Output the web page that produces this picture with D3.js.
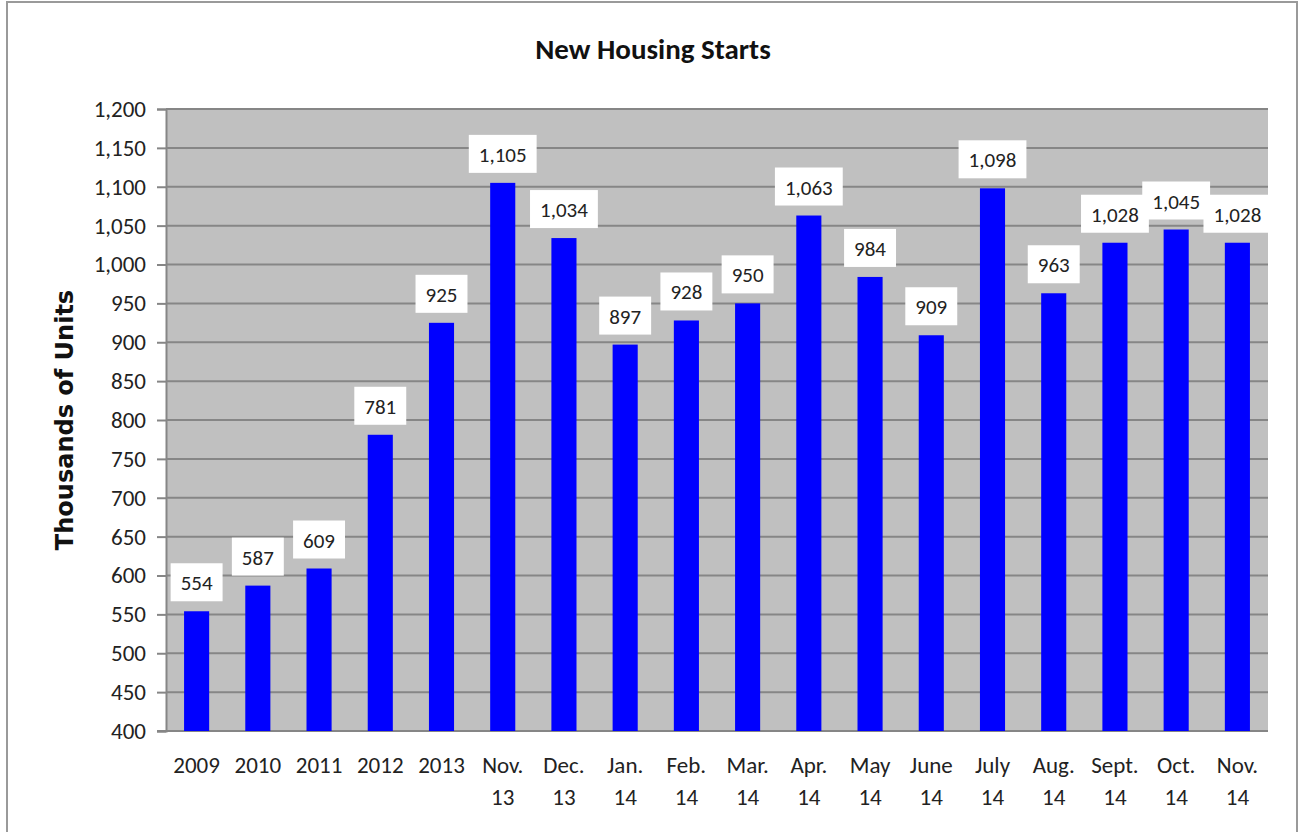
<!DOCTYPE html>
<html>
<head>
<meta charset="utf-8">
<script src="https://cdn.jsdelivr.net/npm/d3@7"></script>
<style>
  html, body { margin: 0; padding: 0; background: #fff; }
  svg { display: block; }
</style>
</head>
<body>
<div id="container"></div>
<script>
// ---------- DATA ----------
const categories = [
    ['2009'], ['2010'], ['2011'], ['2012'], ['2013'],
    ['Nov.', '13'], ['Dec.', '13'], ['Jan.', '14'], ['Feb.', '14'],
    ['Mar.', '14'], ['Apr.', '14'], ['May', '14'], ['June', '14'],
    ['July', '14'], ['Aug.', '14'], ['Sept.', '14'], ['Oct.', '14'], ['Nov.', '14']
];
const starts = [554, 587, 609, 781, 925, 1105, 1034, 897, 928, 950, 1063, 984, 909, 1098, 963, 1028, 1045, 1028];
const yTicks = [400, 450, 500, 550, 600, 650, 700, 750, 800, 850, 900, 950, 1000, 1050, 1100, 1150, 1200];

// ---------- DIMENSIONS ----------
const width = 1300;
const height = 832;
const marginTop = 109;
const marginRight = 32;
const marginBottom = 101;
const marginLeft = 166;
const font = "Calibri, Carlito, 'Open Sans', sans-serif";

const data = categories.map((c, i) => ({ key: c.join(' '), lines: c, value: starts[i] }));

const svg = d3.select('#container').append('svg')
    .attr('width', width)
    .attr('height', height);

// outer frame
svg.append('rect')
    .attr('x', 7).attr('y', 2)
    .attr('width', 1290).attr('height', 840)
    .attr('fill', '#fff')
    .attr('stroke', '#9a9a9a')
    .attr('stroke-width', 2);

// ---------- SCALES ----------
const x = d3.scaleBand()
    .domain(data.map(d => d.key))
    .range([marginLeft, width - marginRight])
    .paddingInner(0.59)
    .paddingOuter(0.295);

const y = d3.scaleLinear()
    .domain([400, 1200])
    .range([height - marginBottom, marginTop]);

// plot background
svg.append('rect')
    .attr('x', marginLeft)
    .attr('y', marginTop)
    .attr('width', width - marginRight - marginLeft)
    .attr('height', y(400) - y(1200))
    .attr('fill', '#c0c0c0');

// ---------- AXES ----------
const yAxis = svg.append('g')
    .attr('transform', `translate(${marginLeft},0)`)
    .call(d3.axisLeft(y)
        .tickValues(yTicks)
        .tickSize(9)
        .tickPadding(11)
        .tickFormat(d3.format(',')));

yAxis.select('.domain').attr('stroke', '#868686').attr('stroke-width', 2);
yAxis.selectAll('.tick line').attr('stroke', '#868686').attr('stroke-width', 2);
yAxis.selectAll('.tick text')
    .attr('fill', '#222')
    .style('font-family', font)
    .style('font-size', '23px');

// gridlines
svg.append('g')
    .selectAll('line')
    .data(yTicks.filter(t => t > 400))
    .join('line')
    .attr('x1', marginLeft)
    .attr('x2', width - marginRight)
    .attr('y1', d => y(d))
    .attr('y2', d => y(d))
    .attr('stroke', '#868686')
    .attr('stroke-width', 2);

// bottom axis line
svg.append('line')
    .attr('x1', marginLeft - 9)
    .attr('x2', width - marginRight)
    .attr('y1', y(400))
    .attr('y2', y(400))
    .attr('stroke', '#868686')
    .attr('stroke-width', 2);

// ---------- BARS ----------
svg.append('g')
    .selectAll('rect')
    .data(data)
    .join('rect')
    .attr('x', d => x(d.key))
    .attr('width', x.bandwidth())
    .attr('y', d => y(d.value))
    .attr('height', d => y(400) - y(d.value))
    .attr('fill', '#0000ff');

// ---------- DATA LABELS ----------
const labels = svg.append('g')
    .selectAll('g')
    .data(data)
    .join('g')
    .attr('transform', d => `translate(${x(d.key) + x.bandwidth() / 2},${y(d.value) - 10})`);

labels.append('text')
    .attr('text-anchor', 'middle')
    .attr('y', -11)
    .attr('fill', '#222')
    .style('font-family', font)
    .style('font-size', '21px')
    .text(d => d3.format(',')(d.value));

labels.each(function () {
    const g = d3.select(this);
    const w = g.select('text').node().getComputedTextLength();
    g.insert('rect', 'text')
        .attr('x', -w / 2 - 10)
        .attr('y', -38)
        .attr('width', w + 20)
        .attr('height', 38)
        .attr('fill', '#fff');
});

// ---------- CATEGORY LABELS ----------
svg.append('g')
    .selectAll('text')
    .data(data)
    .join('text')
    .attr('x', d => x(d.key) + x.bandwidth() / 2)
    .attr('y', y(400) + 42)
    .attr('text-anchor', 'middle')
    .attr('fill', '#222')
    .style('font-family', font)
    .style('font-size', '23px')
    .selectAll('tspan')
    .data(d => d.lines.map(l => ({ l, cx: x(d.key) + x.bandwidth() / 2 })))
    .join('tspan')
    .attr('x', t => t.cx)
    .attr('dy', (t, i) => i === 0 ? 0 : 32)
    .text(t => t.l);

// ---------- TITLES ----------
svg.append('text')
    .attr('x', 653)
    .attr('y', 59)
    .attr('text-anchor', 'middle')
    .attr('fill', '#111')
    .style('font-family', font)
    .style('font-weight', 'bold')
    .style('font-size', '29px')
    .text('New Housing Starts');

svg.append('text')
    .attr('transform', `translate(73,${(y(400) + y(1200)) / 2}) rotate(-90)`)
    .attr('text-anchor', 'middle')
    .attr('fill', '#111')
    .style('font-family', "'DejaVu Sans', Verdana, sans-serif")
    .style('font-weight', 'bold')
    .style('font-size', '24px')
    .text('Thousands of Units');
</script>
</body>
</html>
